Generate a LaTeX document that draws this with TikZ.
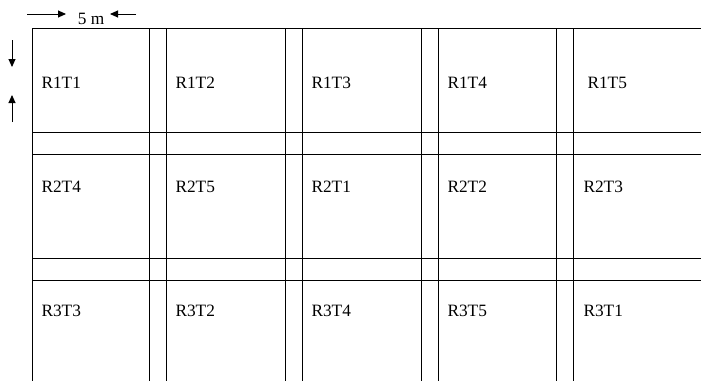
\documentclass[tikz,border=0pt]{standalone}
\usepackage{fontspec}
\setmainfont{Liberation Serif}
\usetikzlibrary{arrows.meta}
\begin{document}
\begin{tikzpicture}[x=1pt,y=-1pt,line width=1pt,
  lab/.style={anchor=west,inner sep=0pt,font=\fontsize{17.3}{17.3}\selectfont},
  arr/.style={-{Triangle[length=8pt,width=7pt]},line width=0.9pt}]
\useasboundingbox (0,0) rectangle (701,381);
% grid
\foreach \y in {28,132,154,258,280} \draw (32,\y) -- (701,\y);
\foreach \x in {32,149.5,166,285,302,421,438,556.5,573} \draw (\x,28) -- (\x,381);
% labels
\node[lab] (r1t1) at (41,82.5) {R1T1};
\node[lab] (r1t2) at (175,82.5) {R1T2};
\node[lab] (r1t3) at (311,82.5) {R1T3};
\node[lab] (r1t4) at (447,82.5) {R1T4};
\node[lab] (r1t5) at (587,82.5) {R1T5};
\node[lab] (r2t4) at (41,187) {R2T4};
\node[lab] (r2t5) at (175,187) {R2T5};
\node[lab] (r2t1) at (311,187) {R2T1};
\node[lab] (r2t2) at (447,187) {R2T2};
\node[lab] (r2t3) at (583,187) {R2T3};
\node[lab] (r3t3) at (41,311) {R3T3};
\node[lab] (r3t2) at (175,311) {R3T2};
\node[lab] (r3t4) at (311,311) {R3T4};
\node[lab] (r3t5) at (447,311) {R3T5};
\node[lab] (r3t1) at (583,311) {R3T1};
% dimension marks
\node[lab,anchor=center] (dim) at (91,18.5) {5 m};
\coordinate (ha) at (27,14);
\coordinate (hb) at (66,14);
\coordinate (hc) at (136,14);
\coordinate (hd) at (110,14);
\coordinate (va) at (12,40);
\coordinate (vb) at (12,67);
\coordinate (vc) at (12,122);
\coordinate (vd) at (12,95);
\draw[arr] (ha) -- (hb);
\draw[arr] (hc) -- (hd);
\draw[arr] (va) -- (vb);
\draw[arr] (vc) -- (vd);
\end{tikzpicture}
\end{document}
